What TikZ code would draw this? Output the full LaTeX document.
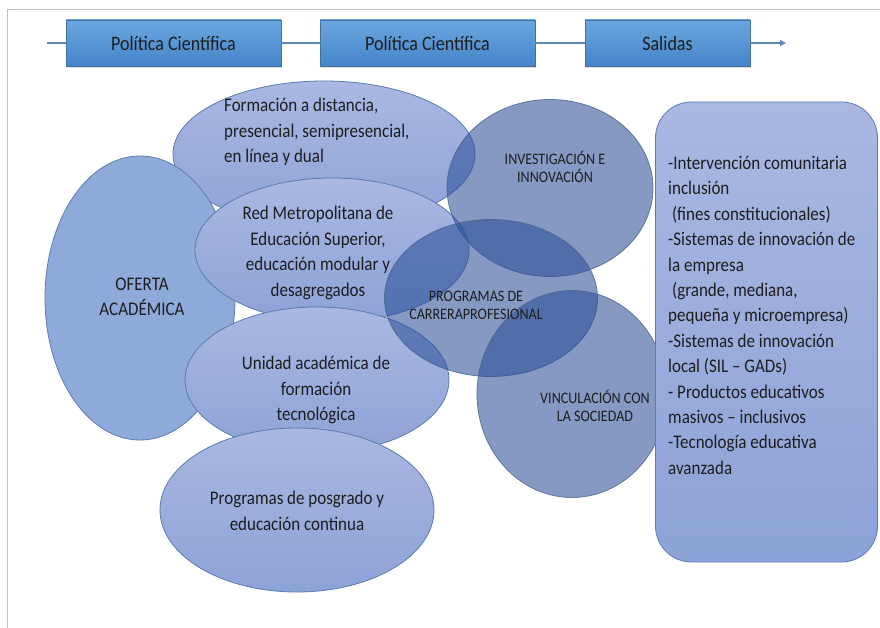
\documentclass[tikz,border=0pt]{standalone}
\usepackage{fontspec}
\setmainfont{Carlito}[FakeStretch=0.88]
\usetikzlibrary{shapes.geometric,arrows.meta,shadows}
\definecolor{frameC}{HTML}{B8C4D6}
\definecolor{lineC}{HTML}{5E87B8}
\definecolor{boxTop}{HTML}{6AA6DE}
\definecolor{boxBot}{HTML}{4584CA}
\definecolor{boxDraw}{HTML}{41719C}
\definecolor{ellTop}{HTML}{AAB8E2}
\definecolor{ellBot}{HTML}{8DA2D8}
\definecolor{ellDraw}{HTML}{5C7BAE}
\definecolor{ofeFill}{HTML}{8EAADB}
\definecolor{darkC}{HTML}{2C4F98}
\definecolor{txt}{HTML}{1E1E1E}
\tikzset{
  topbox/.style={draw=boxDraw, top color=boxTop, bottom color=boxBot, minimum height=46pt, inner sep=0pt,
    drop shadow={opacity=0.25, shadow xshift=1pt, shadow yshift=-2pt}, font=\fontsize{20.5}{22}\selectfont, text=txt},
  lightell/.style={ellipse, draw=ellDraw, line width=0.8pt, top color=ellTop, bottom color=ellBot, inner sep=0pt},
  darkell/.style={ellipse, draw=ellDraw!80!black, line width=0.8pt, fill=darkC, fill opacity=0.58, draw opacity=0.8, inner sep=0pt},
  bodytxt/.style={text=txt, font=\fontsize{19.3}{25.4}\selectfont, inner sep=0pt},
  smalltxt/.style={text=txt, font=\fontsize{16}{18}\selectfont, inner sep=0pt, align=center},
}
\begin{document}
\begin{tikzpicture}[x=1pt,y=-1pt]
\useasboundingbox (0,0) rectangle (880,628);
% frame
\draw[frameC, line width=1pt] (7,628) -- (7,10) -- (880,10);
% top row
\coordinate (start) at (47,43);
\coordinate (end) at (786,43);
\node[topbox, minimum width=215pt] (b1) at (173.5,43) {Política Científica};
\node[topbox, minimum width=215pt] (b2) at (427.5,43) {Política Científica};
\node[topbox, minimum width=165pt] (b3) at (667.5,43) {Salidas};
\draw[lineC, line width=1.2pt] (start) -- (b1.west);
\draw[lineC, line width=1.2pt] (b1.east) -- (b2.west);
\draw[lineC, line width=1.2pt] (b2.east) -- (b3.west);
\draw[lineC, line width=1.2pt, -{Triangle[length=6pt,width=6pt]}] (b3.east) -- (end);
% light ellipses
\node[lightell, minimum width=302pt, minimum height=146pt] (form) at (324,154) {};
\node[ellipse, draw=ellDraw, line width=0.8pt, fill=ofeFill, minimum width=190pt, minimum height=284pt] (ofe) at (140,298) {};
\node[lightell, minimum width=274pt, minimum height=144pt] (red) at (332,250) {};
\node[lightell, minimum width=264pt, minimum height=146pt] (uni) at (317,380) {};
\node[lightell, minimum width=274pt, minimum height=164pt] (pos) at (297,510) {};
% texts
\node[bodytxt, anchor=west, align=left] (formT) at (224,132) {Formación a distancia,\\presencial, semipresencial,\\en línea y dual};
\node[bodytxt, align=center] (ofeT) at (142,297) {OFERTA\\ACADÉMICA};
\node[bodytxt, align=center] (redT) at (318,253) {Red Metropolitana de\\Educación Superior,\\educación modular y\\desagregados};
\node[bodytxt, align=center] (uniT) at (316,390) {Unidad académica de\\formación\\tecnológica};
\node[bodytxt, align=center] (posT) at (297,511) {Programas de posgrado y\\educación continua};
% dark circles
\node[darkell, minimum width=206pt, minimum height=177pt] (inv) at (550,188) {};
\node[darkell, minimum width=213pt, minimum height=157pt] (prog) at (491,298) {};
\node[darkell, minimum width=190pt, minimum height=207pt] (vinc) at (572,394) {};
\node[smalltxt] (invT) at (555,167) {INVESTIGACIÓN E\\INNOVACIÓN};
\node[smalltxt] (progT) at (476,305) {PROGRAMAS DE\\CARRERAPROFESIONAL};
\node[smalltxt] (vincT) at (595,406) {VINCULACIÓN CON\\LA SOCIEDAD};
% right box
\node[draw=ellDraw, line width=0.8pt, top color=ellTop, bottom color=ellBot, rounded corners=36pt,
  minimum width=222pt, minimum height=460pt, inner sep=0pt] (out) at (766.5,332) {};
\node[bodytxt, anchor=north west, align=left] (outT) at (668,156) {-Intervención comunitaria\\inclusión\\\ (fines constitucionales)\\-Sistemas de innovación de\\la empresa\\\ (grande, mediana,\\pequeña y microempresa)\\-Sistemas de innovación\\local (SIL – GADs)\\- Productos educativos\\masivos – inclusivos\\-Tecnología educativa\\avanzada};
\end{tikzpicture}
\end{document}
